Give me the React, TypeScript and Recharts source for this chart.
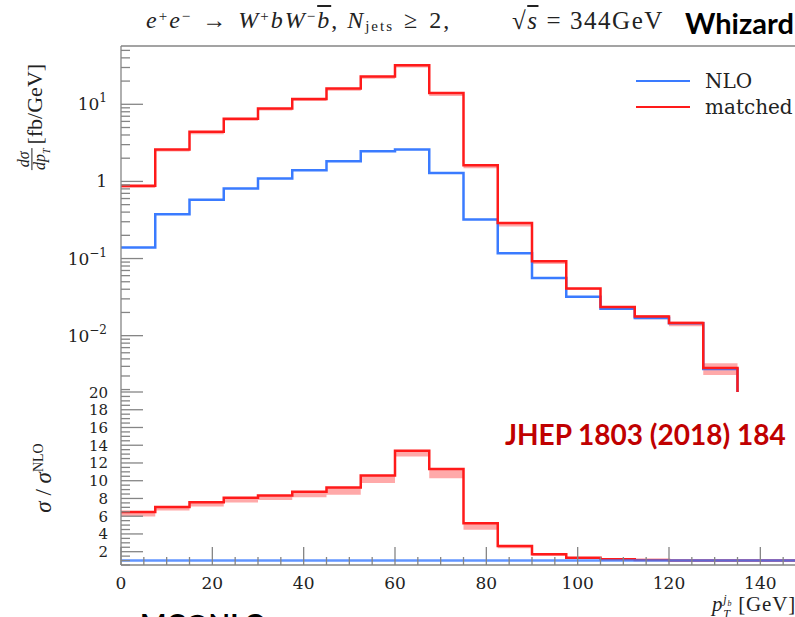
import React from 'react';
import { ComposedChart, Line, Area, XAxis, YAxis, ReferenceLine } from 'recharts';

// bin edges in GeV (7.5 GeV bins)
const binEdges = [0, 7.5, 15, 22.5, 30, 37.5, 45, 52.5, 60, 67.5, 75, 82.5, 90, 97.5, 105, 112.5, 120, 127.5, 135, 142.5, 150];

// upper panel: dσ/dpT [fb/GeV], one value per bin (0..135)
const matched = [0.88, 2.6, 4.4, 6.5, 8.8, 11.7, 16, 23, 32, 14, 1.62, 0.29, 0.092, 0.041, 0.0235, 0.0177, 0.0146, 0.0038];
const matchedLo = [0.82, 2.45, 4.1, 6.1, 8.3, 11.0, 15, 21.5, 30, 12.8, 1.48, 0.26, 0.085, 0.039, 0.022, 0.0163, 0.0132, 0.0031];
const matchedHi = [0.89, 2.62, 4.45, 6.55, 8.9, 11.8, 16.2, 23.2, 32.3, 14.1, 1.63, 0.292, 0.093, 0.0415, 0.0238, 0.0186, 0.0153, 0.0044];
const nlo = [0.139, 0.375, 0.58, 0.81, 1.09, 1.4, 1.83, 2.46, 2.6, 1.29, 0.32, 0.117, 0.056, 0.032, 0.0223, 0.017, 0.0145, 0.0037];

// lower panel: σ/σ^NLO, one value per bin (0..150)
const ratioMatched = [6.46, 7.05, 7.58, 8.07, 8.33, 8.75, 9.24, 10.59, 13.37, 11.31, 5.21, 2.65, 1.71, 1.33, 1.15, 1.07, 1.0, 1.0, 1.0, 1.0];
const ratioMatchedLo = [5.96, 6.64, 7.09, 7.54, 7.84, 8.15, 8.41, 9.73, 12.73, 10.29, 4.46, 2.39, 1.55, 1.25, 1.1, 1.02, 0.94, 0.94, 0.94, 0.94];
const ratioMatchedHi = [6.5, 7.08, 7.62, 8.1, 8.36, 8.78, 9.27, 10.62, 13.4, 11.34, 5.24, 2.68, 1.74, 1.36, 1.18, 1.1, 1.06, 1.06, 1.06, 1.06];
const ratioNlo = [1, 1, 1, 1, 1, 1, 1, 1, 1, 1, 1, 1, 1, 1, 1, 1, 1, 1, 1, 1];

// axis ticks
const xTicks = [0, 5, 10, 15, 20, 25, 30, 35, 40, 45, 50, 55, 60, 65, 70, 75, 80, 85, 90, 95, 100, 105, 110, 115, 120, 125, 130, 135, 140, 145, 150];
const xLabels = [0, 20, 40, 60, 80, 100, 120, 140];
const logTicks = [
  0.002, 0.003, 0.004, 0.005, 0.006, 0.007, 0.008, 0.009,
  0.01, 0.02, 0.03, 0.04, 0.05, 0.06, 0.07, 0.08, 0.09,
  0.1, 0.2, 0.3, 0.4, 0.5, 0.6, 0.7, 0.8, 0.9,
  1, 2, 3, 4, 5, 6, 7, 8, 9,
  10, 20, 30, 40, 50,
];
const logLabels = [0.01, 0.1, 1, 10];
const logExponents = ['−2', '−1', '', '1'];
const ratioLabels = [2, 4, 6, 8, 10, 12, 14, 16, 18, 20];

const LOG_DOMAIN = [0.00186, 57];
const RATIO_DOMAIN = [0.5, 20];
const FLOOR = 1e-5; // histogram falls to nothing past the last filled bin

const AXIS = '#858585';
const RED = '#ff1a1a';
const BLUE = '#3a7bff';
const BAND = '#ff8c8c';
const SERIF = '"DejaVu Serif", serif';
const MATH = '"Liberation Serif", "DejaVu Serif", serif';
const SANS = 'Lato, "Open Sans", sans-serif';

const upperRows = binEdges.slice(0, matched.length + 1).map((x, i) => {
  const last = i === matched.length;
  const b = last ? i - 1 : i;
  return {
    x,
    matched: last ? FLOOR : matched[i],
    nlo: last ? FLOOR : nlo[i],
    band: [matchedLo[b], matchedHi[b]],
  };
});

const ratioMinor: number[] = [];
for (let v = 0.5; v <= 20; v += 0.5) ratioMinor.push(v);

const lowerRows = binEdges.map((x, i) => {
  const b = Math.min(i, ratioMatched.length - 1);
  return {
    x,
    matched: ratioMatched[b],
    nlo: ratioNlo[b],
    band: [ratioMatchedLo[b], ratioMatchedHi[b]],
  };
});

function XTick(props: any) {
  const { x, y, payload, withLabel } = props;
  const v = payload.value;
  const major = v % 20 === 0;
  return (
    <g>
      <line x1={x} x2={x} y1={y} y2={y - (major ? 18 : 8)} stroke={AXIS} strokeWidth={1.3} />
      {withLabel && xLabels.includes(v) && (
        <text x={x} y={y + 24} textAnchor="middle" fontFamily={SERIF} fontSize={17} fill="#222">
          {v}
        </text>
      )}
    </g>
  );
}

function LogTick(props: any) {
  const { x, y, payload } = props;
  const v = payload.value;
  const idx = logLabels.indexOf(v);
  const major = idx >= 0;
  return (
    <g>
      <line x1={x} x2={x + (major ? 22 : 9)} y1={y} y2={y} stroke={AXIS} strokeWidth={1.3} />
      {major && (
        <text x={x - 14} y={y + 6} textAnchor="end" fontFamily={SERIF} fontSize={17} fill="#222">
          {logExponents[idx] === '' ? (
            '1'
          ) : (
            <>
              <tspan>10</tspan>
              <tspan dy={-8} fontSize={12}>{logExponents[idx]}</tspan>
            </>
          )}
        </text>
      )}
    </g>
  );
}

function RatioTick(props: any) {
  const { x, y, payload } = props;
  const v = payload.value;
  const major = ratioLabels.includes(v);
  return (
    <g>
      <line x1={x} x2={x + (major ? 22 : 9)} y1={y} y2={y} stroke={AXIS} strokeWidth={1.3} />
      {major && (
        <text x={x - 13} y={y + 5.5} textAnchor="end" fontFamily={SERIF} fontSize={15} fill="#222">
          {v}
        </text>
      )}
    </g>
  );
}

const sup = { fontSize: 15, verticalAlign: '0.45em', lineHeight: 0 } as const;

export default function App() {
  return (
    <div
      style={{
        position: 'absolute',
        left: 0,
        top: 0,
        width: 795,
        height: 617,
        overflow: 'hidden',
        background: '#fff',
      }}
    >
      {/* title */}
      <div
        style={{
          position: 'absolute',
          left: 146,
          top: 7,
          fontFamily: MATH,
          fontSize: 24,
          letterSpacing: 2,
          whiteSpace: 'nowrap',
          color: '#222',
        }}
      >
        <i>e</i><span style={sup}>+</span><i>e</i><span style={sup}>−</span>
        <span style={{ margin: '0 10px' }}>→</span>
        <i>W</i><span style={sup}>+</span><i>bW</i><span style={sup}>−</span>
        <i style={{ textDecoration: 'overline' }}>b</i>,{' '}
        <i>N</i><span style={{ fontSize: 15, verticalAlign: '-0.2em' }}>jets</span>
        <span style={{ margin: '0 10px' }}>≥</span>2,
      </div>
      <div
        style={{
          position: 'absolute',
          left: 512,
          top: 7,
          fontFamily: MATH,
          fontSize: 25,
          letterSpacing: 1.5,
          whiteSpace: 'nowrap',
          color: '#222',
        }}
      >
        √<i style={{ textDecoration: 'overline' }}>s</i>
        <span style={{ margin: '0 8px' }}>=</span>344GeV
      </div>
      <div
        style={{
          position: 'absolute',
          left: 685,
          top: 5,
          fontFamily: SANS,
          fontWeight: 700,
          fontSize: 29,
          color: '#000',
          whiteSpace: 'nowrap',
        }}
      >
        Whizard
      </div>

      {/* upper panel */}
      <div style={{ position: 'absolute', left: 0, top: 0 }}>
        <ComposedChart width={820} height={400} data={upperRows} margin={{ top: 46, right: 14, bottom: 8, left: 0 }}>
          <XAxis
            dataKey="x"
            type="number"
            domain={[0, 150]}
            ticks={xTicks}
            interval={0}
            height={0}
            tickSize={0}
            tickMargin={0}
            tickLine={false}
            axisLine={{ stroke: AXIS, strokeWidth: 1.3 }}
            tick={(p: any) => <XTick {...p} />}
          />
          <YAxis
            scale="log"
            domain={LOG_DOMAIN}
            allowDataOverflow
            ticks={logTicks}
            interval={0}
            width={121}
            tickSize={0}
            tickMargin={0}
            tickLine={false}
            axisLine={{ stroke: AXIS, strokeWidth: 1.3 }}
            tick={(p: any) => <LogTick {...p} />}
          />
          <ReferenceLine y={LOG_DOMAIN[1]} stroke={AXIS} strokeWidth={1.3} />
          <Area
            dataKey="band"
            type="stepAfter"
            fill={BAND}
            fillOpacity={0.75}
            stroke="none"
            isAnimationActive={false}
          />
          <Line
            dataKey="nlo"
            type="stepAfter"
            stroke={BLUE}
            strokeWidth={2.5}
            dot={false}
            isAnimationActive={false}
          />
          <Line
            dataKey="matched"
            type="stepAfter"
            stroke={RED}
            strokeWidth={2.5}
            dot={false}
            isAnimationActive={false}
          />
        </ComposedChart>
      </div>

      {/* lower panel */}
      <div style={{ position: 'absolute', left: 0, top: 380 }}>
        <ComposedChart width={820} height={220} data={lowerRows} margin={{ top: 12, right: 14, bottom: 0, left: 0 }}>
          <XAxis
            dataKey="x"
            type="number"
            domain={[0, 150]}
            ticks={xTicks}
            interval={0}
            height={35}
            tickSize={0}
            tickMargin={0}
            tickLine={false}
            axisLine={{ stroke: AXIS, strokeWidth: 1.3 }}
            tick={(p: any) => <XTick {...p} withLabel />}
          />
          <YAxis
            domain={RATIO_DOMAIN}
            allowDataOverflow
            ticks={ratioMinor}
            interval={0}
            width={121}
            tickSize={0}
            tickMargin={0}
            tickLine={false}
            axisLine={{ stroke: AXIS, strokeWidth: 1.3 }}
            tick={(p: any) => <RatioTick {...p} />}
          />
          <Area
            dataKey="band"
            type="stepAfter"
            fill={BAND}
            fillOpacity={0.75}
            stroke="none"
            isAnimationActive={false}
          />
          <Line
            dataKey="matched"
            type="stepAfter"
            stroke={RED}
            strokeWidth={2.5}
            dot={false}
            isAnimationActive={false}
          />
          <Line
            dataKey="nlo"
            type="stepAfter"
            stroke={BLUE}
            strokeOpacity={0.8}
            strokeWidth={2.5}
            dot={false}
            isAnimationActive={false}
          />
        </ComposedChart>
      </div>

      {/* legend */}
      <div style={{ position: 'absolute', left: 636, top: 68, fontFamily: SERIF, fontSize: 20, color: '#222' }}>
        {[
          { name: 'NLO', color: BLUE },
          { name: 'matched', color: RED },
        ].map((s) => (
          <div key={s.name} style={{ display: 'flex', alignItems: 'center', height: 26 }}>
            <div style={{ width: 54, height: 2.5, background: s.color, marginRight: 15 }} />
            <span>{s.name}</span>
          </div>
        ))}
      </div>

      {/* y labels */}
      <div
        style={{
          position: 'absolute',
          left: 35,
          top: 117,
          transform: 'translate(-50%, -50%) rotate(-90deg)',
          fontFamily: MATH,
          fontSize: 22,
          whiteSpace: 'nowrap',
          display: 'flex',
          alignItems: 'center',
          color: '#222',
        }}
      >
        <span style={{ display: 'inline-flex', flexDirection: 'column', alignItems: 'center', fontSize: 16, fontStyle: 'italic', marginRight: 4 }}>
          <span style={{ lineHeight: '15px' }}>dσ</span>
          <span style={{ borderTop: '1px solid #222', lineHeight: '15px' }}>
            dp<sub style={{ fontSize: 10 }}>T</sub>
          </span>
        </span>
        <span>[fb/GeV]</span>
      </div>
      <div
        style={{
          position: 'absolute',
          left: 44,
          top: 478,
          transform: 'translate(-50%, -50%) rotate(-90deg)',
          fontFamily: MATH,
          fontSize: 23,
          whiteSpace: 'nowrap',
          color: '#222',
        }}
      >
        <i>σ</i> / <i>σ</i>
        <sup style={{ fontSize: 14 }}>NLO</sup>
      </div>

      {/* x label */}
      <div
        style={{
          position: 'absolute',
          left: 712,
          top: 593,
          fontFamily: MATH,
          fontSize: 21,
          letterSpacing: 0.8,
          whiteSpace: 'nowrap',
          color: '#222',
          lineHeight: '22px',
        }}
      >
        <i>p</i>
        <span style={{ display: 'inline-flex', flexDirection: 'column', fontSize: 12, fontStyle: 'italic', verticalAlign: 'middle', lineHeight: '10px' }}>
          <span>j<sub style={{ fontSize: 8 }}>b</sub></span>
          <span>T</span>
        </span>
        {' '}[GeV]
      </div>

      <div
        style={{
          position: 'absolute',
          left: 505,
          top: 417,
          fontFamily: SANS,
          fontWeight: 700,
          fontSize: 28,
          color: '#c00000',
          whiteSpace: 'nowrap',
        }}
      >
        JHEP 1803 (2018) 184
      </div>

      <div
        style={{
          position: 'absolute',
          left: 140,
          top: 607,
          fontFamily: SANS,
          fontWeight: 700,
          fontSize: 28,
          color: '#000',
          whiteSpace: 'nowrap',
        }}
      >
        MC@NLO
      </div>
    </div>
  );
}
